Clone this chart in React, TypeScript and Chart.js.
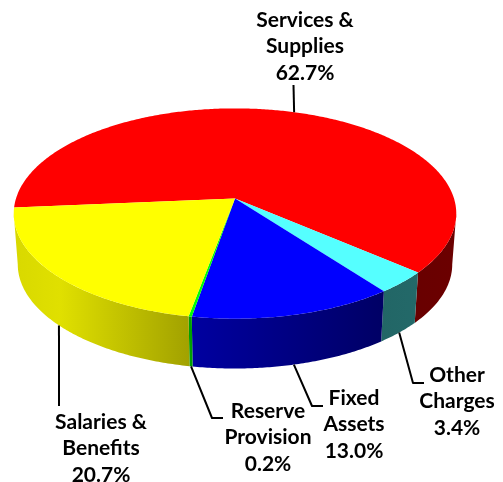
import { useEffect, useRef } from "react";
import { Chart, registerables } from "chart.js";

Chart.register(...registerables);

const categories = ["Services & Supplies", "Other Charges", "Fixed Assets", "Reserve Provision", "Salaries & Benefits"];
const shares = [62.7, 3.4, 13.0, 0.2, 20.7];
const sliceColors = ["#ff0000", "#55ffff", "#0000ff", "#00ff00", "#ffff00"];
const labelLines = [["Services &", "Supplies"], ["Other", "Charges"], ["Fixed", "Assets"], ["Reserve", "Provision"], ["Salaries &", "Benefits"]];

// Perspective disc: the top face and the bottom rim share the same vanishing term.
const CX = 235;
const TILT = 1 / 7;
const TOP = { cy: 198.5, rx: 219, ry: 103 };
const BOTTOM = { cy: 249.5, rx: 215, ry: 102 };
const PIE_ROTATION = 265;

// Light falls from the left, so the wall darkens towards the right.
const WALL_SHADE: [number, number][] = [[17, 0.85], [60, 0.88], [190, 0.63], [380, 0.4], [450, 0.42]];

// Leader elbow, then the horizontal run, and the centre of each text block.
const LEADERS = [
  { elbow: [293.5, 85], run: null, text: [305, 20] },
  { elbow: [413, 383], run: [424, 383], text: [457, 375] },
  { elbow: [312, 406], run: [323, 406], text: [354, 398] },
  { elbow: [212, 418], run: [223, 418], text: [268, 411] },
  { elbow: [59, 406], run: null, text: [101, 422] },
];
const LINE_STEP = 26.7;

function project(face: typeof TOP, angle: number): [number, number] {
  const u = Math.cos(angle);
  const v = Math.sin(angle);
  const w = 1 - TILT * v;
  return [CX + (face.rx * u) / w, face.cy + (face.ry * v) / w];
}

function hexToRgb(hex: string) {
  return [1, 3, 5].map((i) => parseInt(hex.slice(i, i + 2), 16));
}

function wallGradient(ctx: CanvasRenderingContext2D, color: string) {
  const [r, g, b] = hexToRgb(color);
  const from = WALL_SHADE[0][0];
  const to = WALL_SHADE[WALL_SHADE.length - 1][0];
  const grad = ctx.createLinearGradient(from, 0, to, 0);
  for (const [x, s] of WALL_SHADE) {
    grad.addColorStop((x - from) / (to - from), `rgb(${r * s},${g * s},${b * s})`);
  }
  return grad;
}

function traceRim(ctx: CanvasRenderingContext2D, face: typeof TOP, a0: number, a1: number, first: boolean) {
  const steps = Math.max(2, Math.ceil(Math.abs(a1 - a0) / 0.01));
  for (let i = 0; i <= steps; i++) {
    const [x, y] = project(face, a0 + ((a1 - a0) * i) / steps);
    if (i === 0 && first) ctx.moveTo(x, y);
    else ctx.lineTo(x, y);
  }
}

const pie3d = {
  id: "pie3d",
  beforeDatasetsDraw(chart: Chart) {
    const ctx = chart.ctx;
    const arcs = chart.getDatasetMeta(0).data as any[];
    const TWO_PI = Math.PI * 2;
    const limit0 = Math.asin(TILT);
    const limit1 = Math.PI - limit0;

    ctx.save();
    // Outer wall, limited to the part of the rim that faces the viewer.
    arcs.forEach((arc, i) => {
      let a0 = arc.startAngle;
      let a1 = arc.endAngle;
      while (a0 > limit1) { a0 -= TWO_PI; a1 -= TWO_PI; }
      for (const shift of [0, TWO_PI]) {
        const s = Math.max(a0 - shift, limit0);
        const e = Math.min(a1 - shift, limit1);
        if (e <= s) continue;
        ctx.beginPath();
        traceRim(ctx, TOP, s, e, true);
        traceRim(ctx, BOTTOM, e, s, false);
        ctx.closePath();
        ctx.fillStyle = wallGradient(ctx, sliceColors[i]);
        ctx.fill();
      }
    });

    // Top face.
    arcs.forEach((arc, i) => {
      ctx.beginPath();
      ctx.moveTo(CX, TOP.cy);
      traceRim(ctx, TOP, arc.startAngle, arc.endAngle, false);
      ctx.closePath();
      ctx.fillStyle = sliceColors[i];
      ctx.fill();
    });

    // Leader lines start on the rim at each slice's middle angle.
    ctx.strokeStyle = "#000";
    ctx.lineWidth = 2;
    ctx.lineJoin = "round";
    arcs.forEach((arc, i) => {
      const mid = (arc.startAngle + arc.endAngle) / 2;
      const onBack = Math.sin(mid) < 0;
      const start = project(onBack ? TOP : BOTTOM, mid);
      const { elbow, run } = LEADERS[i];
      ctx.beginPath();
      ctx.moveTo(start[0], start[1]);
      ctx.lineTo(elbow[0], elbow[1]);
      if (run) ctx.lineTo(run[0], run[1]);
      ctx.stroke();
    });

    // Label blocks: name lines followed by the share.
    ctx.fillStyle = "#000";
    ctx.font = '700 21px Lato, "Open Sans", sans-serif';
    ctx.textAlign = "center";
    ctx.textBaseline = "middle";
    categories.forEach((_, i) => {
      const [x, y] = LEADERS[i].text;
      const lines = [...labelLines[i], `${shares[i].toFixed(1)}%`];
      lines.forEach((line, n) => ctx.fillText(line, x, y + n * LINE_STEP));
    });
    ctx.restore();
    return false;
  },
};

export default function App() {
  const ref = useRef<HTMLCanvasElement>(null);
  useEffect(() => {
    if (!ref.current) return;
    const chart = new Chart(ref.current, {
      type: "pie",
      data: {
        labels: categories,
        datasets: [{ data: shares, backgroundColor: sliceColors, borderWidth: 0 }],
      },
      options: {
        responsive: false,
        animation: false,
        rotation: PIE_ROTATION,
        plugins: { legend: { display: false }, tooltip: { enabled: false } },
      },
      plugins: [pie3d],
    } as any);
    return () => chart.destroy();
  }, []);
  return (
    <div style={{ position: "fixed", left: 0, top: 0, width: 503, height: 482, background: "#fff" }}>
      <canvas ref={ref} width={503} height={482} style={{ display: "block" }} />
    </div>
  );
}
